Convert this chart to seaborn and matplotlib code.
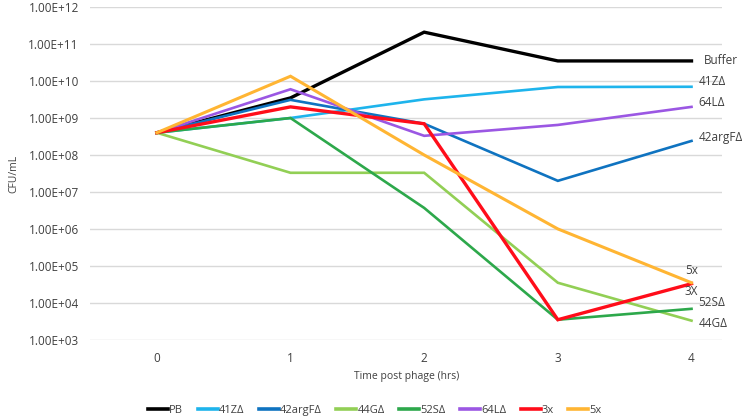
import numpy as np
import matplotlib
matplotlib.use("Agg")
import matplotlib.pyplot as plt
import seaborn as sns
import pandas as pd
from matplotlib.ticker import FixedLocator, FuncFormatter
from matplotlib.lines import Line2D

# zaman noktalari (saat)
saat = [0, 1, 2, 3, 4]

# her suş icin CFU/mL degerleri
pb = [4e8, 3.5e9, 2.1e11, 3.5e10, 3.5e10]
z41 = [4e8, 1.0e9, 3.2e9, 6.9e9, 7.0e9]
argf42 = [4e8, 3.1e9, 7.0e8, 2.0e7, 2.4e8]
g44 = [4e8, 3.3e7, 3.3e7, 3.5e4, 3.3e3]
s52 = [4e8, 1.0e9, 3.7e6, 3.5e3, 6.9e3]
l64 = [4e8, 6.0e9, 3.3e8, 6.5e8, 2.0e9]
x3 = [4e8, 2.0e9, 7.0e8, 3.5e3, 3.3e4]
x5 = [4e8, 1.35e10, 1.0e8, 1.0e6, 3.5e4]

seriler = ["PB", "41ZΔ", "42argFΔ", "44GΔ", "52SΔ", "64LΔ", "3x", "5x"]
degerler = [pb, z41, argf42, g44, s52, l64, x3, x5]
renkler = ["#000000", "#1EB4EC", "#0F73C0", "#92CF55", "#2DA84B", "#9B57E3", "#FF0D1A", "#FFB533"]
kalinlik = [2.4, 1.9, 1.9, 1.9, 1.9, 1.9, 2.4, 2.2]

# sag taraftaki etiketler
sag_etiket = ["Buffer", "41ZΔ", "42argFΔ", "44GΔ", "52SΔ", "64LΔ", "3X", "5x"]

veri = pd.DataFrame({
    "saat": np.tile(saat, len(seriler)),
    "cfu": np.concatenate(degerler),
    "suş": np.repeat(seriler, len(saat)),
})

plt.rcParams["font.family"] = ["Open Sans", "DejaVu Sans"]
fig = plt.figure(figsize=(7.5, 4.18), dpi=100)
ax = fig.add_axes([0.12, 0.187, 0.843, 0.796])

sns.lineplot(data=veri, x="saat", y="cfu", hue="suş", palette=dict(zip(seriler, renkler)),
             ax=ax, legend=False)
for cizgi, lw in zip(ax.get_lines(), kalinlik):
    cizgi.set_linewidth(lw)
    cizgi.set_solid_joinstyle("miter")

ax.set_yscale("log")
ax.set_ylim(1e3, 1e12)
ax.set_xlim(-0.5, 4.23)
ax.yaxis.set_major_locator(FixedLocator([10.0 ** k for k in range(3, 13)]))
ax.yaxis.set_minor_locator(FixedLocator([]))
ax.yaxis.set_major_formatter(FuncFormatter(lambda v, p: "1.00E+%02d" % round(np.log10(v))))
ax.set_xticks(saat)
ax.grid(axis="y", color="#D9D9D9", linewidth=1)
ax.set_axisbelow(True)
for s in ax.spines.values():
    s.set_visible(False)
ax.tick_params(length=0, labelsize=8.5, colors="#404040", pad=9)
ax.tick_params(axis="y", pad=8)
ax.set_xlabel("Time post phage (hrs)", fontsize=7.5, color="#404040", labelpad=4)
ax.set_ylabel("CFU/mL", fontsize=7.5, color="#404040")
ax.yaxis.set_label_coords(-0.111, 0.5)

# sag etiketleri yaz
konum = {"Buffer": (4.09, 3.5e10), "41ZΔ": (4.05, 9.5e9), "64LΔ": (4.05, 2.7e9),
         "42argFΔ": (4.05, 2.9e8), "5x": (3.95, 7.5e4), "3X": (3.95, 2.0e4),
         "52SΔ": (4.05, 1.05e4), "44GΔ": (4.05, 2.8e3)}
for et in sag_etiket:
    x, y = konum[et]
    ax.text(x, y, et, fontsize=8.5, color="#404040", va="center", ha="left", clip_on=False)

tutamak = [Line2D([0], [0], color=r, lw=2.6) for r in renkler]
fig.legend(tutamak, seriler, loc="center", bbox_to_anchor=(0.5, 0.019), ncol=8, frameon=False,
           fontsize=8, handlelength=1.8, handletextpad=0.1, columnspacing=1.3,
           labelcolor="#404040")

fig.savefig("out.png", dpi=100)
